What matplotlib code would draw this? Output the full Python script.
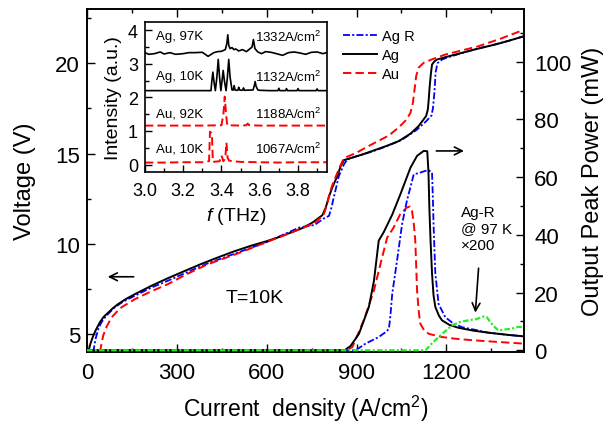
import matplotlib
matplotlib.use('Agg')
import matplotlib.pyplot as plt
from matplotlib.ticker import MultipleLocator

plt.rcParams['font.family'] = ['Liberation Sans', 'DejaVu Sans']
plt.rcParams['mathtext.fontset'] = 'custom'
plt.rcParams['mathtext.rm'] = 'Liberation Sans'
plt.rcParams['mathtext.it'] = 'Liberation Sans:italic'
plt.rcParams['lines.scale_dashes'] = False

# ---- L-I-V data, T = 10 K ----
# voltage (left axis)
J_ag_v = [4, 12, 21, 30, 43, 55, 71, 85, 104, 130, 160, 215, 270, 326, 380, 437, 490, 548, 600, 642,
          686, 720, 753, 786, 797, 808, 819, 836, 847, 858, 875, 920, 952, 1000, 1041, 1080, 1107,
          1132, 1138, 1141, 1144, 1148, 1152, 1160, 1168, 1200, 1251, 1300, 1362, 1410, 1460]
V_ag = [4.0, 4.5, 4.92, 5.25, 5.66, 5.95, 6.2, 6.42, 6.67, 6.95, 7.22, 7.68, 8.1, 8.5, 8.88, 9.25,
        9.58, 9.9, 10.15, 10.38, 10.66, 10.88, 11.18, 11.59, 12.01, 12.62, 13.12, 13.76, 14.31,
        14.64, 14.72, 14.95, 15.14, 15.42, 15.69, 16.1, 16.52, 17.07, 17.44, 18.0, 18.7, 19.4,
        19.93, 20.1, 20.2, 20.35, 20.57, 20.78, 21.03, 21.25, 21.5]

J_agr_v = [21, 28, 38, 48, 60, 75, 93, 120, 160, 215, 270, 330, 400, 500, 600, 708, 760, 790, 808,
           816, 825, 833, 841, 850, 858, 869, 900, 950, 1000, 1050, 1100, 1130, 1150, 1155, 1160,
           1164, 1170, 1185, 1200, 1250, 1300, 1360, 1410, 1460]
V_agr = [4.0, 4.7, 5.3, 5.65, 5.93, 6.2, 6.49, 6.8, 7.13, 7.58, 7.96, 8.4, 8.9, 9.5, 10.1, 10.9,
         11.05, 11.4, 11.55, 12.0, 12.65, 13.2, 13.76, 14.1, 14.4, 14.68, 14.85, 15.1, 15.4, 15.75,
         16.3, 16.75, 17.1, 17.5, 18.4, 19.5, 20.0, 20.2, 20.3, 20.55, 20.8, 21.03, 21.25, 21.5]

J_au_v = [43, 54, 65, 82, 100, 115, 160, 215, 270, 330, 400, 500, 600, 700, 760, 790, 800, 810,
          820, 835, 848, 858, 880, 900, 950, 1008, 1041, 1065, 1080, 1088, 1094, 1099, 1107, 1124,
          1150, 1196, 1250, 1307, 1380, 1460]
V_au = [4.0, 4.92, 5.4, 5.93, 6.25, 6.49, 6.94, 7.38, 7.77, 8.3, 8.85, 9.45, 10.1, 10.75, 11.15,
        11.6, 12.1, 12.8, 13.3, 13.9, 14.4, 14.75, 14.9, 15.05, 15.5, 16.0, 16.45, 16.85, 17.25,
        17.8, 18.6, 19.28, 19.75, 20.02, 20.2, 20.48, 20.7, 20.94, 21.35, 21.86]

# output peak power (right axis)
J_ag_p = [0, 860, 880, 908, 941, 958, 974, 991, 1019, 1046, 1080, 1102, 1124, 1136, 1140, 1143,
          1147, 1152, 1157, 1163, 1175, 1185, 1210, 1240, 1290, 1340, 1400, 1460]
P_ag = [0, 0, 1.5, 5.7, 15, 24, 38, 41, 47, 54, 63.3, 67.4, 69.1, 69.0, 62, 49.5, 38, 26.5, 19,
        15, 12, 10.4, 8.8, 7.8, 6.8, 6.1, 5.4, 4.8]

J_agr_p = [0, 897, 930, 974, 1000, 1008, 1013, 1019, 1035, 1052, 1068, 1091, 1110, 1130, 1141,
           1152, 1155, 1157, 1163, 1174, 1196, 1220, 1252, 1300, 1340, 1400, 1460]
P_agr = [0, 0, 2.3, 4.6, 6.5, 7.5, 12, 19.5, 31, 43.7, 51.8, 61, 61.5, 62.2, 62.4, 61.6, 52, 43.7,
         26.5, 16, 11.5, 9.5, 8, 7, 6.1, 5.4, 4.8]

J_au_p = [0, 864, 886, 924, 958, 980, 1002, 1024, 1046, 1068, 1078, 1085, 1091, 1096, 1102, 1108,
          1113, 1125, 1141, 1185, 1230, 1285, 1370, 1460]
P_au = [0, 0, 1.1, 10.4, 20.7, 30, 39, 42.6, 47.2, 49.5, 49.8, 48.4, 44, 38, 20.7, 13, 9.2, 7,
        5.7, 4.6, 4.0, 3.5, 2.9, 2.3]

# Ag-R at 97 K, x200
J_hot = [0, 1130, 1150, 1174, 1195, 1218, 1245, 1274, 1300, 1324, 1335, 1346, 1360, 1373, 1395,
         1418, 1440, 1460]
P_hot = [0, 0, 2.2, 4.6, 6.5, 8.6, 9.8, 10.4, 10.8, 11.7, 11.5, 9.8, 8.2, 6.9, 7.2, 7.5, 8.1, 8.0]

# ---- spectra (inset), offset for clarity ----
f_au10 = [3.0, 3.1, 3.2, 3.3, 3.335, 3.340, 3.345, 3.350, 3.355, 3.39, 3.40, 3.41, 3.42, 3.426,
          3.432, 3.44, 3.46, 3.5, 3.6, 3.7, 3.8, 3.95]
I_au10 = [0.06, 0.06, 0.07, 0.07, 0.1, 0.98, 0.95, 0.9, 0.08, 0.1, 0.27, 0.1, 0.2, 0.65, 0.2,
          0.12, 0.1, 0.08, 0.07, 0.06, 0.07, 0.07]

f_au92 = [3.0, 3.3, 3.40, 3.41, 3.417, 3.424, 3.43, 3.5, 3.53, 3.537, 3.545, 3.6, 3.95]
I_au92 = [1.16, 1.16, 1.17, 1.5, 2.02, 1.5, 1.17, 1.16, 1.17, 1.22, 1.17, 1.16, 1.16]

f_ag10 = [3.0, 3.345, 3.35, 3.355, 3.36, 3.368, 3.376, 3.383, 3.39, 3.397, 3.403, 3.409, 3.415,
          3.424, 3.431, 3.438, 3.445, 3.455, 3.462, 3.466, 3.471, 3.48, 3.487, 3.49, 3.495, 3.505,
          3.512, 3.515, 3.52, 3.565, 3.571, 3.576, 3.581, 3.59, 3.6, 3.65, 3.695, 3.70, 3.705,
          3.735, 3.74, 3.745, 3.795, 3.80, 3.805, 3.895, 3.90, 3.905, 3.95]
I_ag10 = [2.2, 2.2, 2.5, 2.75, 2.5, 2.2, 2.6, 3.13, 2.6, 2.2, 2.5, 2.8, 2.5, 2.2, 2.6, 3.13, 2.6,
          2.22, 2.22, 2.35, 2.22, 2.21, 2.22, 2.3, 2.22, 2.21, 2.22, 2.28, 2.21, 2.22, 2.33, 2.47,
          2.33, 2.22, 2.21, 2.2, 2.2, 2.27, 2.2, 2.2, 2.26, 2.2, 2.2, 2.26, 2.2, 2.2, 2.25, 2.2, 2.2]

f_ag97 = [3.0, 3.02, 3.05, 3.08, 3.1, 3.13, 3.16, 3.2, 3.23, 3.26, 3.3, 3.33, 3.36, 3.38, 3.4,
          3.42, 3.428, 3.433, 3.438, 3.445, 3.455, 3.465, 3.475, 3.49, 3.51, 3.53, 3.55, 3.56,
          3.567, 3.575, 3.59, 3.61, 3.63, 3.66, 3.7, 3.72, 3.75, 3.78, 3.81, 3.84, 3.87, 3.9,
          3.93, 3.95]
I_ag97 = [3.33, 3.28, 3.3, 3.35, 3.29, 3.33, 3.28, 3.3, 3.33, 3.33, 3.34, 3.22, 3.33, 3.36, 3.37,
          3.42, 3.6, 3.86, 3.55, 3.45, 3.48, 3.42, 3.44, 3.38, 3.42, 3.36, 3.45, 3.5, 3.72, 3.45,
          3.35, 3.3, 3.36, 3.34, 3.28, 3.25, 3.33, 3.35, 3.32, 3.28, 3.34, 3.35, 3.3, 3.33]

spec_left = ['Ag, 97K', 'Ag, 10K', 'Au, 92K', 'Au, 10K']
spec_right = ['1332A/cm$^2$', '1132A/cm$^2$', '1188A/cm$^2$', '1067A/cm$^2$']
spec_label_y = [3.82, 2.63, 1.51, 0.47]

BLUE = '#0000ff'
RED = '#ff0000'
GREEN = '#22ee22'
dashdot = (5, 1.6, 1.5, 1.6)
dashed = (6, 3)

fig = plt.figure(figsize=(6.13, 4.27), dpi=100)
ax = fig.add_axes([0.1419, 0.1726, 0.7134, 0.804])
ax2 = ax.twinx()

l1, = ax.plot(J_agr_v, V_agr, color=BLUE, lw=1.3, dashes=dashdot, label='Ag R')
l2, = ax.plot(J_ag_v, V_ag, color='k', lw=1.4, label='Ag')
l3, = ax.plot(J_au_v, V_au, color=RED, lw=1.4, dashes=dashed, label='Au')

ax2.plot(J_au_p, P_au, color=RED, lw=1.4, dashes=dashed)
ax2.plot(J_agr_p, P_agr, color=BLUE, lw=1.3, dashes=dashdot)
ax2.plot(J_ag_p, P_ag, color='k', lw=1.4)
ax2.plot(J_hot, P_hot, color=GREEN, lw=1.6, dashes=(4, 1.6, 1.5, 1.6), zorder=5)

ax.set_xlim(0, 1460)
ax.set_ylim(4, 23)
ax2.set_ylim(-0.7, 118.3)

ax.xaxis.set_major_locator(MultipleLocator(300))
ax.xaxis.set_minor_locator(MultipleLocator(150))
ax.yaxis.set_major_locator(MultipleLocator(5))
ax.yaxis.set_minor_locator(MultipleLocator(2.5))
ax2.yaxis.set_major_locator(MultipleLocator(20))
ax2.yaxis.set_minor_locator(MultipleLocator(10))

ax.tick_params(which='both', direction='in', top=True, labelsize=16, width=1)
ax.tick_params(which='major', length=6)
ax.tick_params(which='minor', length=3)
ax.tick_params(axis='x', pad=7)
ax.tick_params(axis='y', pad=5)
ax2.tick_params(which='both', direction='in', labelsize=16, width=1, pad=7)
ax2.tick_params(which='major', length=6)
ax2.tick_params(which='minor', length=3)
for a in (ax, ax2):
    for s in a.spines.values():
        s.set_linewidth(1.2)

ax.set_xlabel('Current  density (A/cm$^2$)', fontsize=16.5, labelpad=7)
ax.set_ylabel('Voltage (V)', fontsize=17, labelpad=14)
ax2.set_ylabel('Output Peak Power (mW)', fontsize=17, labelpad=8)

ax.legend(handles=[l1, l2, l3], loc='upper left', bbox_to_anchor=(0.5595, 0.93),
          bbox_transform=fig.transFigure, frameon=False, fontsize=10.5, borderpad=0,
          borderaxespad=0, handlelength=2.3, handletextpad=0.4, labelspacing=0.35)

# annotations
ax.annotate('', xy=(60, 8.18), xytext=(165, 8.18),
            arrowprops=dict(arrowstyle='->', lw=1.2, color='k', mutation_scale=14))
ax2.annotate('', xy=(1268, 69.1), xytext=(1157, 69.1),
             arrowprops=dict(arrowstyle='->', lw=1.2, color='k', mutation_scale=14))
ax2.annotate('', xy=(1296, 12.1), xytext=(1308, 29.4),
             arrowprops=dict(arrowstyle='->', lw=1.2, color='k', mutation_scale=14))
ax.text(559, 7.05, 'T=10K', fontsize=14, ha='center', va='center')
ax2.text(1250, 50.5, 'Ag-R\n@ 97 K\n\u00d7200', fontsize=11, ha='left', va='top', linespacing=1.25)

# inset with the lasing spectra
axi = fig.add_axes([0.2365, 0.5941, 0.2964, 0.3527])
axi.set_facecolor('white')
axi.plot(f_au10, I_au10, color=RED, lw=1.4, dashes=dashed)
axi.plot(f_au92, I_au92, color=RED, lw=1.4, dashes=dashed)
axi.plot(f_ag10, I_ag10, color='k', lw=1.2)
axi.plot(f_ag97, I_ag97, color='k', lw=1.2)
for lab_l, lab_r, yy in zip(spec_left, spec_right, spec_label_y):
    axi.text(3.059, yy, lab_l, fontsize=9.5, ha='left', va='center')
    axi.text(3.921, yy, lab_r, fontsize=9.5, ha='right', va='center')
axi.set_xlim(3.0, 3.95)
axi.set_ylim(-0.23, 4.25)
axi.xaxis.set_major_locator(MultipleLocator(0.2))
axi.xaxis.set_minor_locator(MultipleLocator(0.1))
axi.yaxis.set_major_locator(MultipleLocator(1))
axi.yaxis.set_minor_locator(MultipleLocator(0.5))
axi.tick_params(which='both', direction='in', labelsize=13, width=1)
axi.tick_params(which='major', length=5)
axi.tick_params(which='minor', length=3)
axi.tick_params(axis='x', pad=7)
axi.tick_params(axis='y', pad=5)
for s in axi.spines.values():
    s.set_linewidth(1.2)
axi.set_xlabel('$f$ (THz)', fontsize=14, labelpad=4)
axi.set_ylabel('Intensity (a.u.)', fontsize=14, labelpad=4)

fig.savefig('out.png', dpi=100)
